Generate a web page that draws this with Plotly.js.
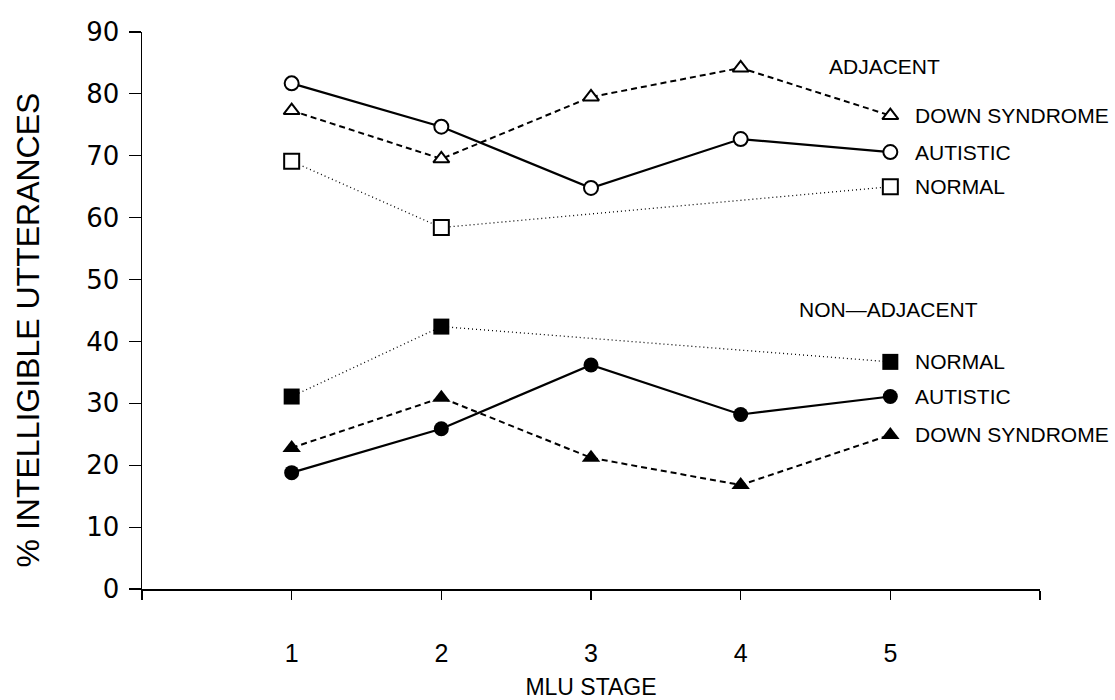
<!DOCTYPE html>
<html>
<head>
<meta charset="utf-8">
<script src="https://cdn.plot.ly/plotly-3.0.1.min.js"></script>
<style>html,body{margin:0;padding:0;background:#fff;}#chart{width:1115px;height:700px;}</style>
</head>
<body>
<div id="chart"></div>
<script>
// ---- data ----
const stages = [1, 2, 3, 4, 5];
const normalStages = [1, 2, 5];
const stageTickVals = [0, 1, 2, 3, 4, 5, 6];
const stageTickText = ['', '1', '2', '3', '4', '5', ''];
const yTickVals = [0, 10, 20, 30, 40, 50, 60, 70, 80, 90];

const adjDown = [77.3, 69.5, 79.5, 84.2, 76.5];
const adjAutistic = [81.7, 74.7, 64.8, 72.7, 70.6];
const adjNormal = [69.1, 58.4, 65.0];

const nonNormal = [31.1, 42.4, 36.7];
const nonAutistic = [18.8, 25.9, 36.2, 28.2, 31.1];
const nonDown = [22.8, 30.9, 21.2, 16.8, 24.9];

const groupLabels = ['ADJACENT', 'NON—ADJACENT'];
const seriesLabels = {down: 'DOWN SYNDROME', aut: 'AUTISTIC', norm: 'NORMAL'};
const xTitle = 'MLU STAGE';
const yTitle = '% INTELLIGIBLE UTTERANCES';

// ---- styles ----
const BLACK = '#000';
const sans = 'Liberation Sans, Arial, sans-serif';
const txtFont = {family: sans, size: 21, color: BLACK};

function trace(x, y, dash, width, symbol, size, filled) {
  return {
    x: x, y: y, type: 'scatter', mode: 'lines+markers',
    line: {color: BLACK, width: width, dash: dash},
    marker: {symbol: symbol, size: size, color: filled ? BLACK : '#fff',
             line: {color: BLACK, width: filled ? 0 : 2}},
    showlegend: false, hoverinfo: 'x+y'
  };
}

const data = [
  trace(normalStages, adjNormal, '1px,3px', 1.3, 'square', 15, false),
  trace(stages, adjDown, '6px,4px', 2, 'triangle-up', 14, false),
  trace(stages, adjAutistic, 'solid', 2.2, 'circle', 14, false),
  trace(normalStages, nonNormal, '1px,3px', 1.3, 'square', 16, true),
  trace(stages, nonDown, '6px,4px', 2, 'triangle-up', 16, true),
  trace(stages, nonAutistic, 'solid', 2.2, 'circle', 15, true)
];

function lastOf(a) { return a[a.length - 1]; }
const labelX = 5.15;
const annotations = [
  {x: 4.576, y: 84.5, text: groupLabels[0]},
  {x: 4.375, y: 45.2, text: groupLabels[1]},
  {x: labelX, y: lastOf(adjDown), text: seriesLabels.down},
  {x: labelX, y: lastOf(adjAutistic), text: seriesLabels.aut},
  {x: labelX, y: lastOf(adjNormal), text: seriesLabels.norm},
  {x: labelX, y: lastOf(nonNormal), text: seriesLabels.norm},
  {x: labelX, y: lastOf(nonAutistic), text: seriesLabels.aut},
  {x: labelX, y: lastOf(nonDown), text: seriesLabels.down}
].map(a => Object.assign({xref: 'x', yref: 'y', xanchor: 'left', yanchor: 'middle',
  showarrow: false, font: txtFont}, a));

// rotated y-axis title placed as an annotation (centre slightly below plot centre, as in the source)
annotations.push({
  xref: 'paper', yref: 'paper', x: -0.127, y: 0.466, xanchor: 'center', yanchor: 'middle',
  text: yTitle, textangle: -90, showarrow: false,
  font: {family: sans, size: 32, color: BLACK}
});

const layout = {
  width: 1115, height: 700,
  paper_bgcolor: '#fff', plot_bgcolor: '#fff',
  margin: {l: 142, r: 75, t: 32, b: 111},
  xaxis: {
    range: [0, 6], tickvals: stageTickVals, ticktext: stageTickText,
    showgrid: false, zeroline: false, showline: true, linecolor: BLACK, linewidth: 1.5,
    ticks: 'outside', ticklen: 9, tickwidth: 1.2, tickcolor: BLACK,
    ticklabelstandoff: 32,
    tickfont: {family: sans, size: 25, color: BLACK},
    title: {text: xTitle, font: {family: sans, size: 23, color: BLACK}, standoff: 22},
    fixedrange: true
  },
  yaxis: {
    range: [0, 90], tickvals: yTickVals,
    showgrid: false, zeroline: false, showline: true, linecolor: BLACK, linewidth: 1.5,
    ticks: 'outside', ticklen: 12, tickwidth: 1.2, tickcolor: BLACK,
    ticklabelstandoff: 4,
    tickfont: {family: 'DejaVu Sans, sans-serif', size: 26, color: BLACK},
    fixedrange: true
  },
  annotations: annotations,
  showlegend: false
};

Plotly.newPlot('chart', data, layout, {displayModeBar: false, staticPlot: true});
</script>
</body>
</html>
